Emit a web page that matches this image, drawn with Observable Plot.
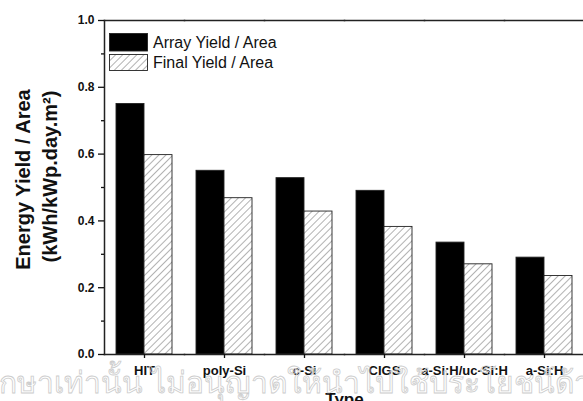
<!DOCTYPE html>
<html>
<head>
<meta charset="utf-8">
<script src="https://cdn.jsdelivr.net/npm/d3@7"></script>
<script src="https://cdn.jsdelivr.net/npm/@observablehq/plot@0.6"></script>
<style>
  html, body { margin: 0; padding: 0; background: white; overflow: hidden; }
  #chart { position: relative; width: 583px; height: 401px; }
</style>
</head>
<body>
<div id="chart"></div>
<script>
const types = ["HIT", "poly-Si", "c-Si", "CIGS", "a-Si:H/uc-Si:H", "a-Si:H"];
const arrayYield = [0.75, 0.55, 0.528, 0.49, 0.335, 0.29];
const finalYield = [0.597, 0.468, 0.428, 0.382, 0.27, 0.235];
const seriesNames = ["Array Yield / Area", "Final Yield / Area"];
const yTicks = [0, 0.2, 0.4, 0.6, 0.8, 1.0];
const yMinorTicks = [0.1, 0.3, 0.5, 0.7, 0.9];
const yTitle1 = "Energy Yield / Area";
const yTitle2 = "(kWh/kWp.day.m²)";
const xTitle = "Type";
const watermark = "ศึกษาเท่านั้น ไม่อนุญาตให้นำไปใช้ประโยชน์ด้านการค้า";

const data = types.flatMap((t, i) => [
  {type: t, series: seriesNames[0], value: arrayYield[i]},
  {type: t, series: seriesNames[1], value: finalYield[i]}
]);

const font = "'Liberation Sans', Arial, Helvetica, sans-serif";

const plot = Plot.plot({
  width: 583,
  height: 401,
  marginTop: 20,
  marginBottom: 47,
  marginLeft: 102,
  marginRight: 0,
  style: {fontFamily: font, background: "white", color: "#111"},
  fx: {domain: types, range: [102.5, 585.5], paddingInner: 0, paddingOuter: 0, label: null},
  x: {domain: seriesNames, paddingInner: 0, paddingOuter: 0.4, axis: null},
  y: {domain: [0, 1], axis: null},
  color: {domain: seriesNames, range: ["black", "url(#hatch)"]},
  marks: [
    Plot.barY(data, {fx: "type", x: "series", y: "value", fill: "series", stroke: "#222", strokeWidth: 0.9}),
    Plot.frame({anchor: "bottom", stroke: "#222", strokeWidth: 1.5}),
    Plot.frame({anchor: "top", stroke: "#222", strokeWidth: 1.5}),
    Plot.frame({anchor: "left", facetAnchor: "left", stroke: "#222", strokeWidth: 1.5}),
    Plot.ruleX(types, {fx: (d) => d, y1: 1, y2: 0.983, stroke: "#222", strokeWidth: 1.3}),
    Plot.axisY({ticks: yTicks, tickFormat: d3.format(".1f"), tickSize: 6, tickPadding: 4, fontSize: 12, fontWeight: "bold", strokeWidth: 1.3, label: null}),
    Plot.axisY({ticks: yMinorTicks, tickFormat: () => "", tickSize: 3, strokeWidth: 1.3, label: null}),
    Plot.text([yTitle1], {text: (d) => d, frameAnchor: "left", facetAnchor: "left", textAnchor: "middle", lineAnchor: "middle", rotate: -90, dx: -81, dy: -8, fontSize: 20, fontWeight: "bold", fill: "#111"}),
    Plot.text([yTitle2], {text: (d) => d, frameAnchor: "left", facetAnchor: "left", textAnchor: "middle", lineAnchor: "middle", rotate: -90, dx: -54, dy: -11, fontSize: 20, fontWeight: "bold", fill: "#111"}),
    Plot.axisFx({anchor: "bottom", tickSize: 4, tickPadding: 7, fontSize: 13, fontWeight: "bold", strokeWidth: 1.3, label: null}),
    Plot.axisFx({anchor: "bottom", ticks: [], label: xTitle, labelArrow: "none", labelAnchor: "center", labelOffset: 50, fontSize: 17, fontWeight: "bold"})
  ]
});

const svg = d3.select(plot);
const defs = svg.insert("defs", ":first-child");
const pat = defs.append("pattern")
  .attr("id", "hatch")
  .attr("patternUnits", "userSpaceOnUse")
  .attr("width", 5).attr("height", 5)
  .attr("patternTransform", "rotate(45)");
pat.append("rect").attr("width", 5).attr("height", 5).attr("fill", "white");
pat.append("line").attr("x1", 0).attr("y1", 0).attr("x2", 0).attr("y2", 5)
  .attr("stroke", "#666").attr("stroke-width", 1);

// legend
const lg = svg.append("g").attr("font-family", font).attr("font-size", 16).attr("text-anchor", "start");
const swatches = [{y: 33.5, h: 17.5, fill: "black"}, {y: 54.5, h: 16, fill: "url(#hatch)"}];
swatches.forEach((s, i) => {
  lg.append("rect").attr("x", 109.5).attr("y", s.y).attr("width", 38).attr("height", s.h)
    .attr("fill", s.fill).attr("stroke", "#222").attr("stroke-width", 0.9);
  lg.append("text").attr("x", 153).attr("y", s.y + s.h / 2).attr("dy", "0.35em")
    .attr("fill", "#111").text(seriesNames[i]);
});

// watermark
svg.append("text")
  .attr("text-anchor", "start")
  .attr("x", -20).attr("y", 393)
  .attr("font-size", 30)
  .attr("font-family", "sans-serif")
  .attr("fill", "white").attr("fill-opacity", 0)
  .attr("stroke", "#cccccc").attr("stroke-width", 0.8)
  .text(watermark);

document.getElementById("chart").appendChild(plot);
</script>
</body>
</html>
